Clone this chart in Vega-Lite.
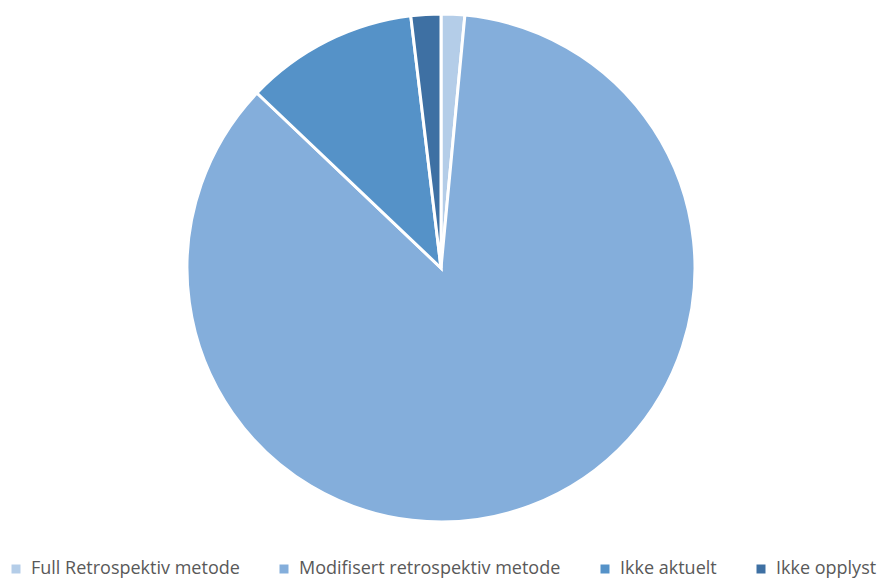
{
  "$schema": "https://vega.github.io/schema/vega-lite/v6.json",
  "width": 882,
  "height": 536,
  "autosize": "none",
  "padding": {"left": 0, "right": 0, "top": 0, "bottom": 44},
  "background": "white",
  "data": {"values": [
    {"kategori": "Full Retrospektiv metode", "andel": 1.5, "rekke": 1},
    {"kategori": "Modifisert retrospektiv metode", "andel": 85.6, "rekke": 2},
    {"kategori": "Ikke aktuelt", "andel": 11.0, "rekke": 3},
    {"kategori": "Ikke opplyst", "andel": 1.9, "rekke": 4}
  ]},
  "mark": {"type": "arc", "outerRadius": 254, "stroke": "white", "strokeWidth": 3},
  "encoding": {
    "theta": {"field": "andel", "type": "quantitative", "stack": true},
    "order": {"field": "rekke", "type": "quantitative"},
    "color": {
      "field": "kategori",
      "type": "nominal",
      "scale": {
        "domain": ["Full Retrospektiv metode", "Modifisert retrospektiv metode", "Ikke aktuelt", "Ikke opplyst"],
        "range": ["#B4CDE8", "#84AEDB", "#5592C8", "#3E70A3"]
      },
      "legend": {
        "orient": "none",
        "legendX": 7,
        "legendY": 560,
        "direction": "horizontal",
        "title": null,
        "symbolType": "square",
        "symbolSize": 81,
        "symbolStrokeWidth": 0,
        "labelFont": "Open Sans",
        "labelFontSize": 18,
        "labelColor": "#595959",
        "labelOffset": 6,
        "columnPadding": 35,
        "labelLimit": 400
      }
    }
  },
  "config": {"view": {"stroke": null}}
}
